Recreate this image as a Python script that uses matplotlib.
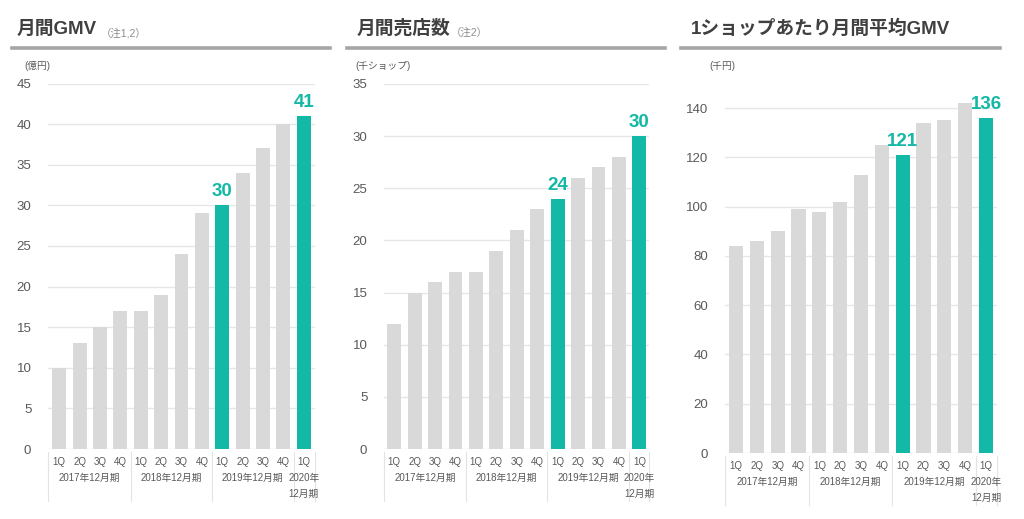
import numpy as np
import matplotlib
matplotlib.use("Agg")
import matplotlib.pyplot as plt
from matplotlib.transforms import blended_transform_factory

plt.rcParams["font.family"] = ["Liberation Sans", "Noto Sans CJK JP", "DejaVu Sans"]

QUARTERS = ["1Q", "2Q", "3Q", "4Q"] * 3 + ["1Q"]
YEAR_LABELS = ["2017年12月期", "2018年12月期", "2019年12月期", "2020年\n12月期"]

gmv = [10, 13, 15, 17, 17, 19, 24, 29, 30, 34, 37, 40, 41]
shops = [12, 15, 16, 17, 17, 19, 21, 23, 24, 26, 27, 28, 30]
gmv_per_shop = [84, 86, 90, 99, 98, 102, 113, 125, 121, 134, 135, 142, 136]
highlight_idx = [8, 12]

GREY = "#d9d9d9"
TEAL = "#13b8a6"
TEXT = "#595959"
W, H = 1024, 519

fig = plt.figure(figsize=(W / 100, H / 100), dpi=100)


def px_axes(left, right, top, bottom):
    return fig.add_axes([left / W, 1 - bottom / H, (right - left) / W, (bottom - top) / H])


def panel(box, values, ylim, yticks, xlim, title, note, unit, title_x, line_x, unit_x):
    left, right, top, bottom = box
    ax = px_axes(left, right, top, bottom)
    x = np.arange(len(values))
    colors = [TEAL if i in highlight_idx else GREY for i in x]
    ax.bar(x, values, width=0.68, color=colors, zorder=2)
    ax.set_xlim(*xlim)
    ax.set_ylim(*ylim)
    ax.set_yticks(yticks)
    ax.yaxis.grid(True, color="#e6e6e6", lw=1, zorder=0)
    ax.set_xticks([])
    ax.tick_params(axis="y", length=0, pad=12, labelsize=9.5, labelcolor=TEXT)
    for s in ax.spines.values():
        s.set_visible(False)

    for i in highlight_idx:
        ax.annotate(f"{values[i]}", xy=(i, values[i]), xytext=(0, 9),
                    textcoords="offset pixels", ha="center", va="baseline",
                    fontsize=13.5, fontweight="bold", color=TEAL)

    # category labels under the bars
    for i, q in enumerate(QUARTERS):
        ax.annotate(q, xy=(i, 0), xytext=(0, -13), textcoords="offset pixels",
                    ha="center", va="center", fontsize=7, color=TEXT,
                    annotation_clip=False)
    group_centers = [1.5, 5.5, 9.5, 12]
    for c, lab in zip(group_centers, YEAR_LABELS):
        ax.annotate(lab, xy=(c, 0), xytext=(0, -24), textcoords="offset pixels",
                    ha="center", va="top", fontsize=7, color=TEXT,
                    linespacing=1.7, annotation_clip=False)

    trans = blended_transform_factory(ax.transData, ax.transAxes)
    h = bottom - top
    for bx in [xlim[0], 3.5, 7.5, 11.5, xlim[1]]:
        ax.plot([bx, bx], [-3 / h, -52 / h], color="#e3e3e3", lw=0.8,
                transform=trans, clip_on=False)

    # title, underline, unit
    fig.text(title_x / W, 1 - 29 / H, title, fontsize=13.5, fontweight="bold",
             color="#404040", ha="left", va="center")
    if note:
        fig.text((title_x + note[1]) / W, 1 - 33 / H, note[0], fontsize=7.5,
                 color="#8c8c8c", ha="left", va="center")
    fig.add_artist(plt.Line2D([line_x[0] / W, line_x[1] / W], [1 - 47.5 / H] * 2,
                              color="#a6a6a6", lw=2.6))
    fig.text(unit_x / W, 1 - 66 / H, unit, fontsize=7, color=TEXT,
             ha="left", va="center")
    return ax


panel((48, 315, 83.5, 449), gmv, (0, 45), range(0, 46, 5), (-0.55, 12.55),
      "月間GMV", ("（注1,2）", 84), "(億円)", 17, (12, 330), 24)
panel((384, 649, 84, 449), shops, (0, 35), range(0, 36, 5), (-0.5, 12.47),
      "月間売店数", ("（注2）", 94), "(千ショップ)", 357, (347, 665), 355)
panel((725, 997, 83.4, 453), gmv_per_shop, (0, 150), range(0, 141, 20), (-0.53, 12.53),
      "1ショップあたり月間平均GMV", None, "(千円)", 691, (681, 1000), 709)

fig.savefig("out.png", dpi=100, facecolor="white")
